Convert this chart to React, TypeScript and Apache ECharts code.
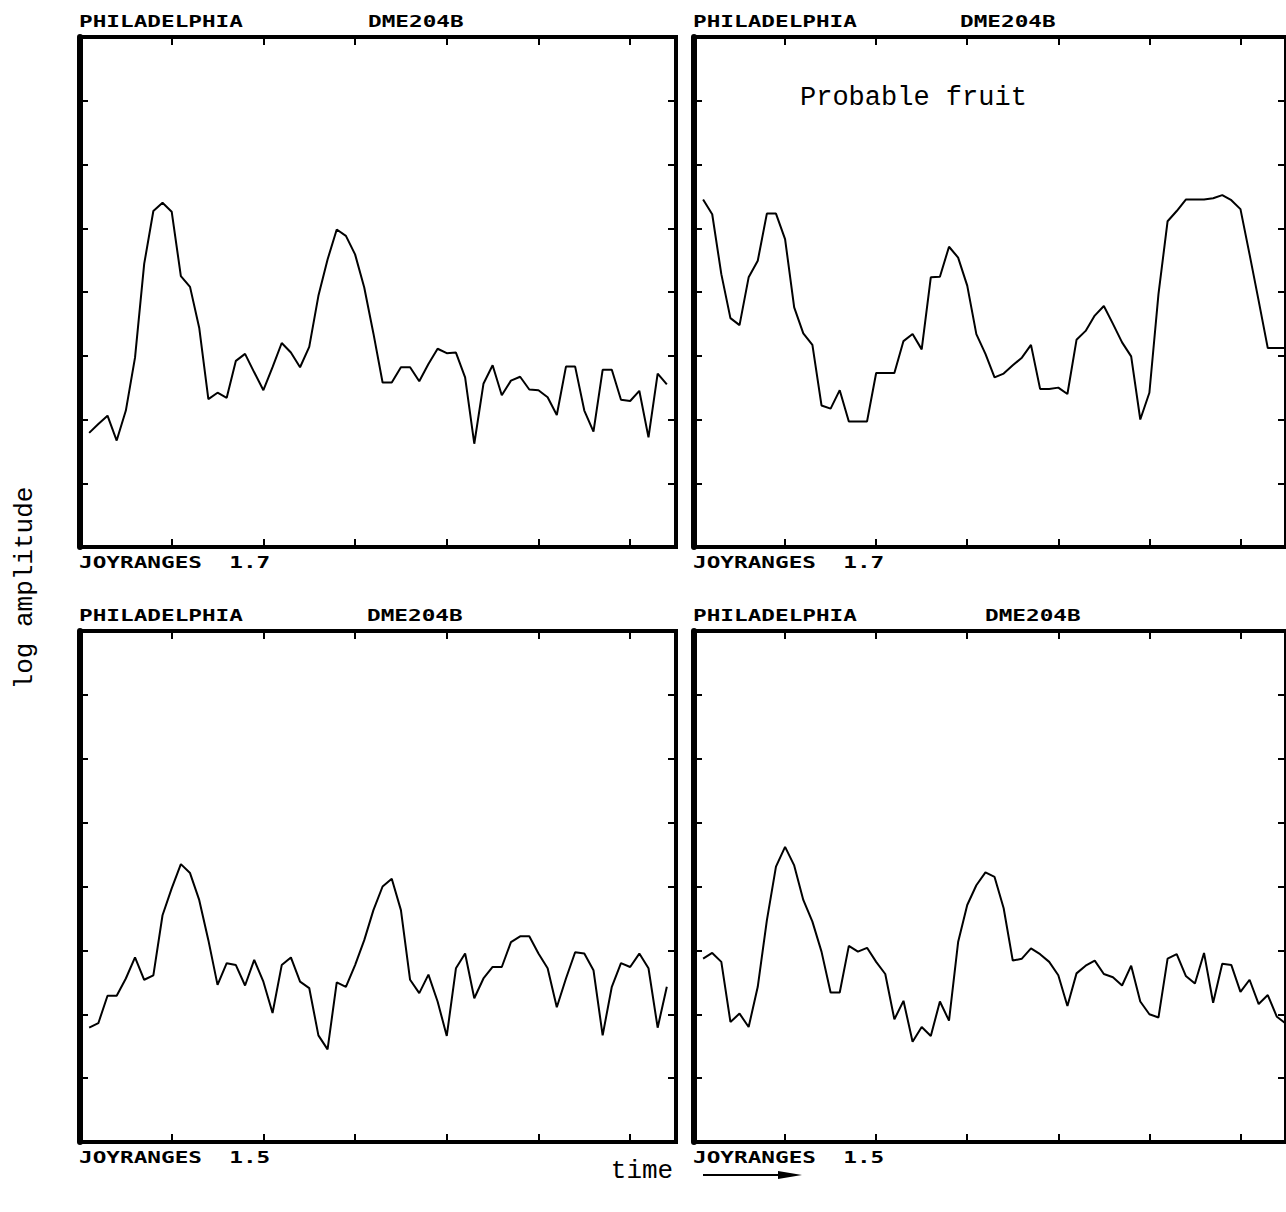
import React, { useEffect, useRef } from "react";
import * as echarts from "echarts";

// ---------- data (log amplitude samples, one every 0.1 time unit) ----------
const sampleStep = 0.1;
const xMax = 6.5;
const yMax = 8;

const topLeftValues = [
  1.79, 1.93, 2.06, 1.67, 2.14, 2.97, 4.44, 5.27, 5.4, 5.26,
  4.25, 4.08, 3.44, 2.32, 2.42, 2.34, 2.92, 3.03, 2.74, 2.46,
  2.82, 3.2, 3.05, 2.82, 3.14, 3.94, 4.51, 4.98, 4.88, 4.59,
  4.07, 3.35, 2.58, 2.58, 2.82, 2.82, 2.6, 2.87, 3.11, 3.04,
  3.05, 2.66, 1.62, 2.56, 2.85, 2.38, 2.61, 2.67, 2.47, 2.46,
  2.35, 2.07, 2.83, 2.83, 2.14, 1.81, 2.78, 2.78, 2.31, 2.29,
  2.45, 1.72, 2.72, 2.55,
];

const topRightValues = [
  5.45, 5.22, 4.28, 3.59, 3.48, 4.23, 4.49, 5.23, 5.23, 4.83,
  3.76, 3.35, 3.17, 2.22, 2.17, 2.46, 1.97, 1.97, 1.97, 2.73,
  2.73, 2.73, 3.23, 3.34, 3.1, 4.23, 4.24, 4.71, 4.54, 4.1,
  3.34, 3.03, 2.66, 2.72, 2.85, 2.97, 3.17, 2.48, 2.48, 2.5,
  2.4, 3.25, 3.39, 3.63, 3.78, 3.5, 3.21, 2.99, 2.0, 2.42,
  3.97, 5.11, 5.27, 5.45, 5.45, 5.45, 5.47, 5.52, 5.44, 5.3,
  4.59, 3.86, 3.12, 3.12, 3.12,
];

const bottomLeftValues = [
  1.79, 1.86, 2.29, 2.29, 2.56, 2.89, 2.54, 2.61, 3.55, 3.97,
  4.35, 4.21, 3.79, 3.16, 2.46, 2.8, 2.77, 2.45, 2.85, 2.51,
  2.02, 2.77, 2.89, 2.51, 2.41, 1.67, 1.45, 2.5, 2.43, 2.77,
  3.16, 3.63, 4.0, 4.12, 3.63, 2.54, 2.33, 2.62, 2.2, 1.66,
  2.72, 2.95, 2.25, 2.56, 2.74, 2.74, 3.13, 3.22, 3.22, 2.95,
  2.72, 2.11, 2.56, 2.97, 2.95, 2.69, 1.67, 2.43, 2.8, 2.74,
  2.95, 2.72, 1.79, 2.43,
];

const bottomRightValues = [
  2.87, 2.96, 2.82, 1.88, 2.01, 1.8, 2.43, 3.47, 4.31, 4.62,
  4.33, 3.79, 3.45, 2.98, 2.34, 2.34, 3.07, 2.98, 3.04, 2.82,
  2.63, 1.92, 2.21, 1.57, 1.8, 1.66, 2.2, 1.9, 3.13, 3.71,
  4.02, 4.22, 4.15, 3.66, 2.84, 2.87, 3.03, 2.94, 2.82, 2.61,
  2.13, 2.64, 2.76, 2.84, 2.63, 2.58, 2.45, 2.76, 2.2, 2.0,
  1.95, 2.87, 2.94, 2.6, 2.48, 2.96, 2.18, 2.79, 2.77, 2.35,
  2.54, 2.16, 2.3, 1.96, 1.85,
];

const panelSeries = [topLeftValues, topRightValues, bottomLeftValues, bottomRightValues];
const placeLabels = ["PHILADELPHIA", "PHILADELPHIA", "PHILADELPHIA", "PHILADELPHIA"];
const codeLabels = ["DME204B", "DME204B", "DME204B", "DME204B"];
const rangeLabels = ["JOYRANGES  1.7", "JOYRANGES  1.7", "JOYRANGES  1.5", "JOYRANGES  1.5"];
const annotationText = "Probable fruit";
const yAxisTitle = "log amplitude";
const xAxisTitle = "time";

// ---------- layout ----------
const panelLayout = [
  { left: 80, top: 37, width: 596, height: 510, codeX: 368 },
  { left: 694, top: 37, width: 596, height: 510, codeX: 960 },
  { left: 80, top: 631, width: 596, height: 511, codeX: 367 },
  { left: 694, top: 631, width: 596, height: 511, codeX: 985 },
];

const plotterFont = "DejaVu Sans Mono";
const typeFont = "Liberation Mono";

export default function App() {
  const ref = useRef<HTMLDivElement>(null);

  useEffect(() => {
    document.body.style.margin = "0";
    document.body.style.overflow = "hidden";
    if (!ref.current) return;
    const chart = echarts.init(ref.current, undefined, { renderer: "svg" });

    const tick = { show: true, inside: true, length: 8, lineStyle: { color: "#000", width: 2 } };
    const hidden = { show: false };
    const noLine = { show: false, onZero: false };

    const grids: any[] = [];
    const xAxes: any[] = [];
    const yAxes: any[] = [];
    const series: any[] = [];
    const graphics: any[] = [];

    const plotterText = (text: string, x: number, y: number) => ({
      type: "text",
      x,
      y,
      scaleX: 1.42,
      style: {
        text,
        fontFamily: plotterFont,
        fontWeight: "bold",
        fontSize: 16,
        fill: "#000",
        textAlign: "left",
        textVerticalAlign: "middle",
      },
    });

    panelLayout.forEach((p, i) => {
      grids.push({
        left: p.left,
        top: p.top,
        width: p.width,
        height: p.height,
        show: true,
        borderColor: "#000",
        borderWidth: 4,
        backgroundColor: "transparent",
      });
      ["bottom", "top"].forEach((pos) => {
        xAxes.push({
          type: "value",
          gridIndex: i,
          position: pos,
          min: 0,
          max: xMax,
          interval: 1,
          axisLine: noLine,
          axisLabel: hidden,
          splitLine: hidden,
          axisTick: tick,
        });
      });
      ["left", "right"].forEach((pos) => {
        yAxes.push({
          type: "value",
          gridIndex: i,
          position: pos,
          min: 0,
          max: yMax,
          interval: 1,
          axisLine:
            pos === "left"
              ? { show: true, onZero: false, lineStyle: { color: "#000", width: 6 } }
              : noLine,
          axisLabel: hidden,
          splitLine: hidden,
          axisTick: tick,
        });
      });
      series.push({
        type: "line",
        xAxisIndex: i * 2,
        yAxisIndex: i * 2,
        showSymbol: false,
        symbol: "none",
        lineStyle: { color: "#000", width: 2 },
        data: panelSeries[i].map((v, k) => [(k + 1) * sampleStep, v]),
        z: 5,
      });

      graphics.push(plotterText(placeLabels[i], p.left - 1, p.top - 15));
      graphics.push(plotterText(codeLabels[i], p.codeX, p.top - 15));
      graphics.push(plotterText(rangeLabels[i], p.left - 1, p.top + p.height + 16));
    });

    graphics.push({
      type: "text",
      x: 800,
      y: 98,
      style: {
        text: annotationText,
        fontFamily: typeFont,
        fontSize: 27,
        fill: "#000",
        textAlign: "left",
        textVerticalAlign: "middle",
      },
    });
    graphics.push({
      type: "text",
      x: 25,
      y: 588,
      rotation: Math.PI / 2,
      style: {
        text: yAxisTitle,
        fontFamily: typeFont,
        fontSize: 26,
        fill: "#000",
        textAlign: "center",
        textVerticalAlign: "middle",
      },
    });
    graphics.push({
      type: "text",
      x: 642,
      y: 1171,
      style: {
        text: xAxisTitle,
        fontFamily: typeFont,
        fontSize: 26,
        fill: "#000",
        textAlign: "center",
        textVerticalAlign: "middle",
      },
    });
    graphics.push({
      type: "line",
      shape: { x1: 703, y1: 1175, x2: 790, y2: 1175 },
      style: { stroke: "#000", lineWidth: 2 },
    });
    graphics.push({
      type: "polygon",
      shape: { points: [[778, 1171], [802, 1175], [778, 1179]] },
      style: { fill: "#000" },
    });

    chart.setOption({
      animation: false,
      backgroundColor: "#fff",
      grid: grids,
      xAxis: xAxes,
      yAxis: yAxes,
      series,
      graphic: graphics,
    });

    return () => chart.dispose();
  }, []);

  return (
    <div
      ref={ref}
      style={{ position: "absolute", left: 0, top: 0, width: 1286, height: 1212, overflow: "hidden", background: "#fff" }}
    />
  );
}
